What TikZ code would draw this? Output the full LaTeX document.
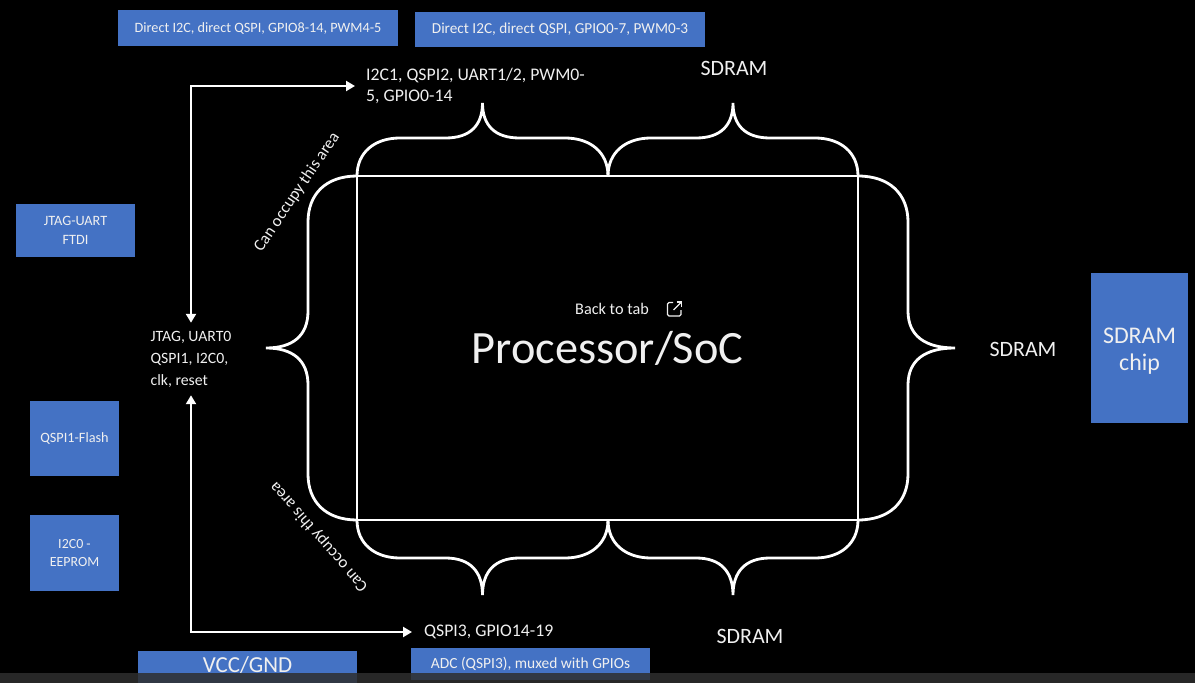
\documentclass[tikz,border=0pt]{standalone}
\usepackage{fontspec}
\setmainfont{Carlito}
\usetikzlibrary{arrows.meta}
\definecolor{boxblue}{HTML}{4472C4}
\definecolor{fg}{HTML}{F0F0F0}
\definecolor{barcol}{HTML}{2E2E2E}
\newcommand{\fsz}[2]{\fontsize{#1}{#2}\selectfont}
\tikzset{
  bluebox/.style={fill=boxblue, text=fg, inner sep=0pt, align=center},
  lbl/.style={text=fg, inner sep=0pt},
  wline/.style={draw=white, line width=2.8bp},
  dblarrow/.style={draw=white, line width=2.6bp,
    {Triangle[length=9bp,width=10bp]}-{Triangle[length=9bp,width=10bp]}},
}
\begin{document}
\begin{tikzpicture}[x=1bp,y=-1bp]
\path[use as bounding box, fill=black] (0,0) rectangle (1195,683);

% blue boxes
\node[bluebox, minimum width=280bp, minimum height=36bp, font=\fsz{14.3}{16}] (b1) at (258,28) {Direct I2C, direct QSPI, GPIO8-14, PWM4-5};
\node[bluebox, minimum width=290bp, minimum height=35bp, font=\fsz{15.3}{17}] (b2) at (560,29.5) {Direct I2C, direct QSPI, GPIO0-7, PWM0-3};
\node[bluebox, minimum width=119bp, minimum height=53bp, font=\fsz{14.3}{19}] (ftdi) at (75.5,230.5) {JTAG-UART\\FTDI};
\node[bluebox, minimum width=89bp, minimum height=75bp, font=\fsz{14.3}{17}] (flash) at (74.5,438.5) {QSPI1-Flash};
\node[bluebox, minimum width=89bp, minimum height=76bp, font=\fsz{14}{17.5}] (eeprom) at (74.5,553) {I2C0 -\\EEPROM};
\node[bluebox, minimum width=97bp, minimum height=150bp, font=\fsz{24}{27}] (chip) at (1139.5,348) {};
\node[lbl, font=\fsz{24}{27}, align=center] (chiptxt) at (1139.5,351) {SDRAM\\chip};
\node[bluebox, minimum width=219bp, minimum height=36bp] (vcc) at (247.5,669) {};
\node[lbl, font=\fsz{23}{26}] (vcctxt) at (247.5,665) {VCC/GND};
\node[bluebox, minimum width=239bp, minimum height=32bp, font=\fsz{15.5}{18}] (adc) at (530.5,664) {ADC (QSPI3), muxed with GPIOs};

% processor rectangle
\node[wline, minimum width=501bp, minimum height=344bp, inner sep=0pt, text=fg, font=\fsz{46.5}{52}] (soc) at (607.5,348) {Processor/SoC};
\node[lbl, font=\fsz{16.3}{18}] (back) at (612,309) {Back to tab};
\draw[fg, line width=1.1bp, rounded corners=1.5bp] (673,302.5) -- (667.5,302.5) -- (667.5,316) -- (681,316) -- (681,310);
\draw[fg, line width=1.1bp] (673.5,310) -- (681.5,302);
\draw[fg, line width=1.1bp] (676.5,302) -- (681.5,302) -- (681.5,307);

% labels
\node[lbl, font=\fsz{17.8}{22}, align=left, anchor=west, inner xsep=11bp] (top) at (355,86) {I2C1, QSPI2, UART1/2, PWM0-\\5, GPIO0-14};
\node[lbl, font=\fsz{15.8}{22}, align=left, inner ysep=8bp] (left) at (191,359) {JTAG, UART0\\QSPI1, I2C0,\\clk, reset};
\node[lbl, font=\fsz{17.8}{20}, anchor=west, inner xsep=12bp] (bot) at (412,632) {QSPI3, GPIO14-19};
\node[lbl, font=\fsz{22}{26}] (sd1) at (734,68) {SDRAM};
\node[lbl, font=\fsz{22}{26}] (sd2) at (1023,349) {SDRAM};
\node[lbl, font=\fsz{22}{26}] (sd3) at (750,636) {SDRAM};
\node[lbl, font=\fsz{16.8}{18}, rotate=56] (occ1) at (297,192) {Can occupy this area};
\node[lbl, font=\fsz{16.8}{18}, rotate=131] (occ2) at (319,537) {Can occupy this area};

% arrows
\draw[dblarrow] (top.west) -| (left.north);
\draw[dblarrow] (left.south) |- (bot.west);

% braces
\draw[wline] (357,176) .. controls (357,152) and (375,138) .. (400,138) -- (445.5,138) .. controls (470.5,138) and (482.5,125) .. (482.5,103) .. controls (482.5,125) and (494.5,138) .. (519.5,138) -- (565,138) .. controls (590,138) and (608,152) .. (608,176);
\draw[wline] (608,176) .. controls (608,152) and (626,138) .. (651,138) -- (696,138) .. controls (721,138) and (733,125) .. (733,103) .. controls (733,125) and (745,138) .. (770,138) -- (815,138) .. controls (840,138) and (858,152) .. (858,176);
\draw[wline] (357,520) .. controls (357,544) and (375,558) .. (400,558) -- (445.5,558) .. controls (470.5,558) and (482.5,572) .. (482.5,595) .. controls (482.5,572) and (494.5,558) .. (519.5,558) -- (565,558) .. controls (590,558) and (608,544) .. (608,520);
\draw[wline] (608,520) .. controls (608,544) and (626,558) .. (651,558) -- (696,558) .. controls (721,558) and (733,572) .. (733,595) .. controls (733,572) and (745,558) .. (770,558) -- (815,558) .. controls (840,558) and (858,544) .. (858,520);
\draw[wline] (357,176) .. controls (326,176) and (308,194) .. (308,222) -- (308,311) .. controls (308,336) and (292.5,348) .. (266,348) .. controls (292.5,348) and (308,360) .. (308,385) -- (308,474) .. controls (308,502) and (326,520) .. (357,520);
\draw[wline] (858,176) .. controls (889.5,176) and (908,194) .. (908,222) -- (908,311) .. controls (908,336) and (925.4,348) .. (955,348) .. controls (925.4,348) and (908,360) .. (908,385) -- (908,474) .. controls (908,502) and (889.5,520) .. (858,520);

% bottom bar
\fill[barcol, opacity=0.85] (0,673) rectangle (1195,683);
\end{tikzpicture}
\end{document}
